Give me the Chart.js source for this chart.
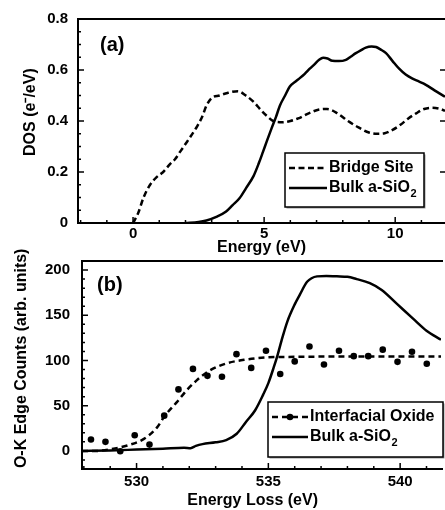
<!DOCTYPE html>
<html>
<head>
<meta charset="utf-8">
<script src="https://cdn.jsdelivr.net/npm/chart.js@4.4.1/dist/chart.umd.min.js"></script>
<style>
  html, body { margin: 0; padding: 0; background: #fff; overflow: hidden; }
  #wrap { position: relative; width: 445px; height: 510px; }
  #dosChart { position: absolute; left: 0; top: 0; }
  #edgeChart { position: absolute; left: 0; top: 238px; }
</style>
</head>
<body>
<div id="wrap">
  <canvas id="dosChart" width="445" height="257"></canvas>
  <canvas id="edgeChart" width="445" height="272"></canvas>
</div>
<script>
// (a) density of states
const bridgeEnergy = [0, 0.2, 0.4, 0.65, 0.9, 1.15, 1.4, 1.6, 1.8, 2.0, 2.2, 2.45, 2.65, 2.8, 3.0, 3.3, 3.6, 4.0, 4.3, 4.6, 4.9, 5.1, 5.35, 5.7, 6.0, 6.3, 6.7, 7.1, 7.4, 7.8, 8.2, 8.6, 9.0, 9.3, 9.6, 9.9, 10.2, 10.5, 10.8, 11.1, 11.4, 11.7, 11.9];
const bridgeDos = [0, 0.04, 0.10, 0.15, 0.18, 0.20, 0.23, 0.25, 0.28, 0.31, 0.34, 0.38, 0.42, 0.46, 0.49, 0.50, 0.51, 0.517, 0.50, 0.475, 0.44, 0.42, 0.40, 0.395, 0.40, 0.41, 0.43, 0.445, 0.447, 0.43, 0.40, 0.375, 0.355, 0.35, 0.352, 0.365, 0.385, 0.41, 0.43, 0.447, 0.452, 0.448, 0.44];
const bulkEnergy = [2.0, 2.5, 2.8, 3.2, 3.55, 3.8, 4.06, 4.3, 4.6, 4.8, 4.96, 5.1, 5.28, 5.45, 5.6, 5.8, 5.98, 6.2, 6.36, 6.55, 6.74, 6.9, 7.1, 7.25, 7.42, 7.6, 7.85, 8.12, 8.3, 8.5, 8.7, 8.88, 9.1, 9.27, 9.45, 9.65, 9.9, 10.15, 10.4, 10.66, 10.9, 11.17, 11.5, 11.9];
const bulkDos = [0, 0.004, 0.01, 0.025, 0.045, 0.07, 0.097, 0.135, 0.185, 0.235, 0.28, 0.32, 0.37, 0.415, 0.46, 0.50, 0.535, 0.555, 0.568, 0.585, 0.605, 0.62, 0.64, 0.648, 0.645, 0.636, 0.635, 0.64, 0.652, 0.666, 0.678, 0.688, 0.692, 0.69, 0.68, 0.666, 0.635, 0.605, 0.582, 0.566, 0.555, 0.542, 0.52, 0.495];

// (b) O-K edge
const oxideFitLoss = [527.93, 528.5, 529.03, 529.65, 530.28, 530.78, 531.05, 531.53, 531.9, 532.28, 532.78, 533.4, 534.15, 535.0, 536.0, 538.0, 540.0, 541.55];
const oxideFitCounts = [0, 0, 2, 6, 13.3, 26, 38, 54, 67, 78, 89, 96.7, 101, 103.5, 104, 104.5, 104.5, 104.5];
const oxideLoss = [528.27, 528.82, 529.38, 529.93, 530.49, 531.05, 531.59, 532.14, 532.69, 533.24, 533.79, 534.35, 534.91, 535.45, 536.0, 536.56, 537.11, 537.68, 538.24, 538.79, 539.34, 539.9, 540.45, 541.01];
const oxideCounts = [12.6, 10, -0.4, 17.3, 7, 39, 68, 90.7, 83, 82, 107, 91.8, 110.7, 85, 99, 115.5, 95.5, 110.7, 104.8, 104.8, 112, 98.5, 109.6, 96.3];
const bulkLoss = [527.93, 529.0, 530.0, 531.0, 531.8, 532.05, 532.25, 532.5, 533.0, 533.4, 533.8, 534.15, 534.5, 534.8, 535.0, 535.2, 535.35, 535.5, 535.72, 536.0, 536.2, 536.47, 536.85, 537.2, 537.6, 538.0, 538.35, 538.85, 539.3, 539.9, 540.5, 541.0, 541.55];
const bulkCounts = [0, 0.5, 1.5, 2.5, 3.5, 3, 5.5, 7.5, 9.5, 12, 19, 32, 45, 62, 75, 92, 106, 122, 143, 162, 173, 187, 193, 193.5, 193, 192.5, 190, 185.5, 178, 162, 146, 133, 123];

Chart.defaults.font.family = "'Liberation Sans', Arial, sans-serif";
Chart.defaults.font.weight = 'bold';
Chart.defaults.color = '#000';

const tickFont = { size: 15, weight: 'bold' };
const titleFont = { size: 16, weight: 'bold' };
const pts = (xs, ys) => xs.map((x, i) => ({ x, y: ys[i] }));

// box, inward minor/major ticks and panel tag
const axisFrame = {
    id: 'axisFrame',
    afterDatasetsDraw(chart, args, opts) {
        const { ctx, chartArea: a, scales } = chart;
        const each = (scale, minor, every, fn) => {
            const first = Math.ceil(scale.min / minor - 1e-9);
            const last = Math.floor(scale.max / minor + 1e-9);
            for (let i = first; i <= last; i++) {
                fn(scale.getPixelForValue(i * minor), i % every === 0);
            }
        };
        ctx.save();
        ctx.strokeStyle = '#000';
        ctx.lineWidth = 1.5;
        ctx.beginPath();
        each(scales.x, opts.xMinor, opts.xEvery, (p, major) => {
            ctx.moveTo(p, a.bottom);
            ctx.lineTo(p, a.bottom - (major ? 6 : 3));
        });
        each(scales.y, opts.yMinor, opts.yEvery, (p, major) => {
            ctx.moveTo(a.left, p);
            ctx.lineTo(a.left + (major ? 6 : 3), p);
            if (opts.rightTicks && major) {
                ctx.moveTo(a.right, p);
                ctx.lineTo(a.right - 5, p);
            }
        });
        ctx.stroke();
        ctx.lineWidth = 2;
        ctx.beginPath();
        ctx.moveTo(a.right + 2, a.top);
        ctx.lineTo(a.left, a.top);
        ctx.lineTo(a.left, a.bottom);
        ctx.lineTo(a.right + 2, a.bottom);
        ctx.stroke();
        ctx.fillStyle = '#000';
        ctx.font = "bold 20px 'Liberation Sans', Arial, sans-serif";
        ctx.textAlign = 'left';
        ctx.textBaseline = 'middle';
        ctx.fillText(opts.tag, opts.tagX, opts.tagY);
        ctx.restore();
    }
};

// legend drawn inside the plot, styles read from the datasets
const boxLegend = {
    id: 'boxLegend',
    afterDraw(chart, args, opts) {
        const { ctx } = chart;
        const b = opts.box;
        ctx.save();
        ctx.fillStyle = '#9a9a9a';
        ctx.fillRect(b.x + 1.5, b.y + 1.5, b.w, b.h);
        ctx.fillStyle = '#fff';
        ctx.fillRect(b.x, b.y, b.w, b.h);
        ctx.strokeStyle = '#000';
        ctx.lineWidth = 1.5;
        ctx.strokeRect(b.x, b.y, b.w, b.h);
        opts.items.forEach(item => {
            const ds = chart.data.datasets[item.line];
            ctx.strokeStyle = ds.borderColor;
            ctx.lineWidth = ds.borderWidth;
            ctx.setLineDash(ds.borderDash || []);
            ctx.beginPath();
            ctx.moveTo(opts.x0, item.y);
            ctx.lineTo(opts.x1, item.y);
            ctx.stroke();
            ctx.setLineDash([]);
            if (item.marker !== undefined) {
                const m = chart.data.datasets[item.marker];
                ctx.fillStyle = m.pointBackgroundColor;
                ctx.beginPath();
                ctx.arc((opts.x0 + opts.x1) / 2, item.y, m.pointRadius, 0, Math.PI * 2);
                ctx.fill();
            }
            ctx.fillStyle = '#000';
            ctx.textAlign = 'left';
            ctx.textBaseline = 'middle';
            ctx.font = "bold 16px 'Liberation Sans', Arial, sans-serif";
            const parts = ds.label.split('\u2082');
            ctx.fillText(parts[0], opts.textX, item.y);
            if (parts.length > 1) {
                const w = ctx.measureText(parts[0]).width;
                ctx.font = "bold 11px 'Liberation Sans', Arial, sans-serif";
                ctx.fillText('2', opts.textX + w + 0.5, item.y + 6);
            }
        });
        ctx.restore();
    }
};

function axisOpts(min, max, step, pad, fit, title, tickCb) {
    return {
        type: 'linear', min, max,
        afterFit: fit,
        grid: { display: false, drawTicks: false },
        border: { display: false },
        ticks: { stepSize: step, includeBounds: false, padding: pad, font: tickFont, color: '#000', maxRotation: 0, callback: tickCb },
        title: { display: true, text: title, font: titleFont, color: '#000', padding: 0 }
    };
}

new Chart(document.getElementById('dosChart'), {
    type: 'scatter',
    data: {
        datasets: [{
            label: 'Bridge Site',
            data: pts(bridgeEnergy, bridgeDos),
            showLine: true, pointRadius: 0,
            borderColor: '#000', borderWidth: 2.5, borderDash: [6, 3.5],
            cubicInterpolationMode: 'monotone'
        }, {
            label: 'Bulk a-SiO\u2082',
            data: pts(bulkEnergy, bulkDos),
            showLine: true, pointRadius: 0,
            borderColor: '#000', borderWidth: 2.5,
            cubicInterpolationMode: 'monotone'
        }]
    },
    options: {
        responsive: false, animation: false, events: [],
        layout: { padding: { left: 21, top: 16, right: 0, bottom: 0 } },
        plugins: {
            legend: { display: false },
            tooltip: { enabled: false },
            axisFrame: { xMinor: 1, xEvery: 5, yMinor: 0.05, yEvery: 4, rightTicks: true, tag: '(a)', tagX: 100, tagY: 45 },
            boxLegend: {
                box: { x: 285, y: 153, w: 139, h: 54 },
                x0: 289, x1: 327, textX: 329,
                items: [{ line: 0, y: 168 }, { line: 1, y: 188 }]
            }
        },
        scales: {
            x: axisOpts(-2.1, 11.9, 5, 2, s => { s.height = 34; }, 'Energy (eV)'),
            y: axisOpts(0, 0.8, 0.2, 10, s => { s.width = 57; }, '    DOS (e\u207B/eV)',
                v => (v === 0 ? '0' : v.toFixed(1)))
        }
    },
    plugins: [axisFrame, boxLegend]
});

new Chart(document.getElementById('edgeChart'), {
    type: 'scatter',
    data: {
        datasets: [{
            label: 'Interfacial Oxide',
            data: pts(oxideFitLoss, oxideFitCounts),
            showLine: true, pointRadius: 0,
            borderColor: '#000', borderWidth: 2.5, borderDash: [6, 4],
            cubicInterpolationMode: 'monotone'
        }, {
            label: 'Interfacial Oxide data',
            data: pts(oxideLoss, oxideCounts),
            showLine: false, pointRadius: 3.3,
            pointBackgroundColor: '#000', pointBorderWidth: 0
        }, {
            label: 'Bulk a-SiO\u2082',
            data: pts(bulkLoss, bulkCounts),
            showLine: true, pointRadius: 0,
            borderColor: '#000', borderWidth: 2.5,
            cubicInterpolationMode: 'monotone'
        }]
    },
    options: {
        responsive: false, animation: false, events: [],
        layout: { padding: { left: 12, top: 23, right: 0, bottom: 0 } },
        plugins: {
            legend: { display: false },
            tooltip: { enabled: false },
            axisFrame: { xMinor: 1, xEvery: 5, yMinor: 10, yEvery: 5, rightTicks: false, tag: '(b)', tagX: 97, tagY: 47 },
            boxLegend: {
                box: { x: 268, y: 164, w: 175, h: 55 },
                x0: 272, x1: 308, textX: 310,
                items: [{ line: 0, marker: 1, y: 179 }, { line: 2, y: 199 }]
            }
        },
        scales: {
            x: axisOpts(527.93, 541.55, 5, 4, s => { s.height = 41; }, 'Energy Loss (eV)    '),
            y: axisOpts(-20, 210, 50, 12, s => { s.width = 70; }, '   O-K Edge Counts (arb. units)')
        }
    },
    plugins: [axisFrame, boxLegend]
});
</script>
</body>
</html>
